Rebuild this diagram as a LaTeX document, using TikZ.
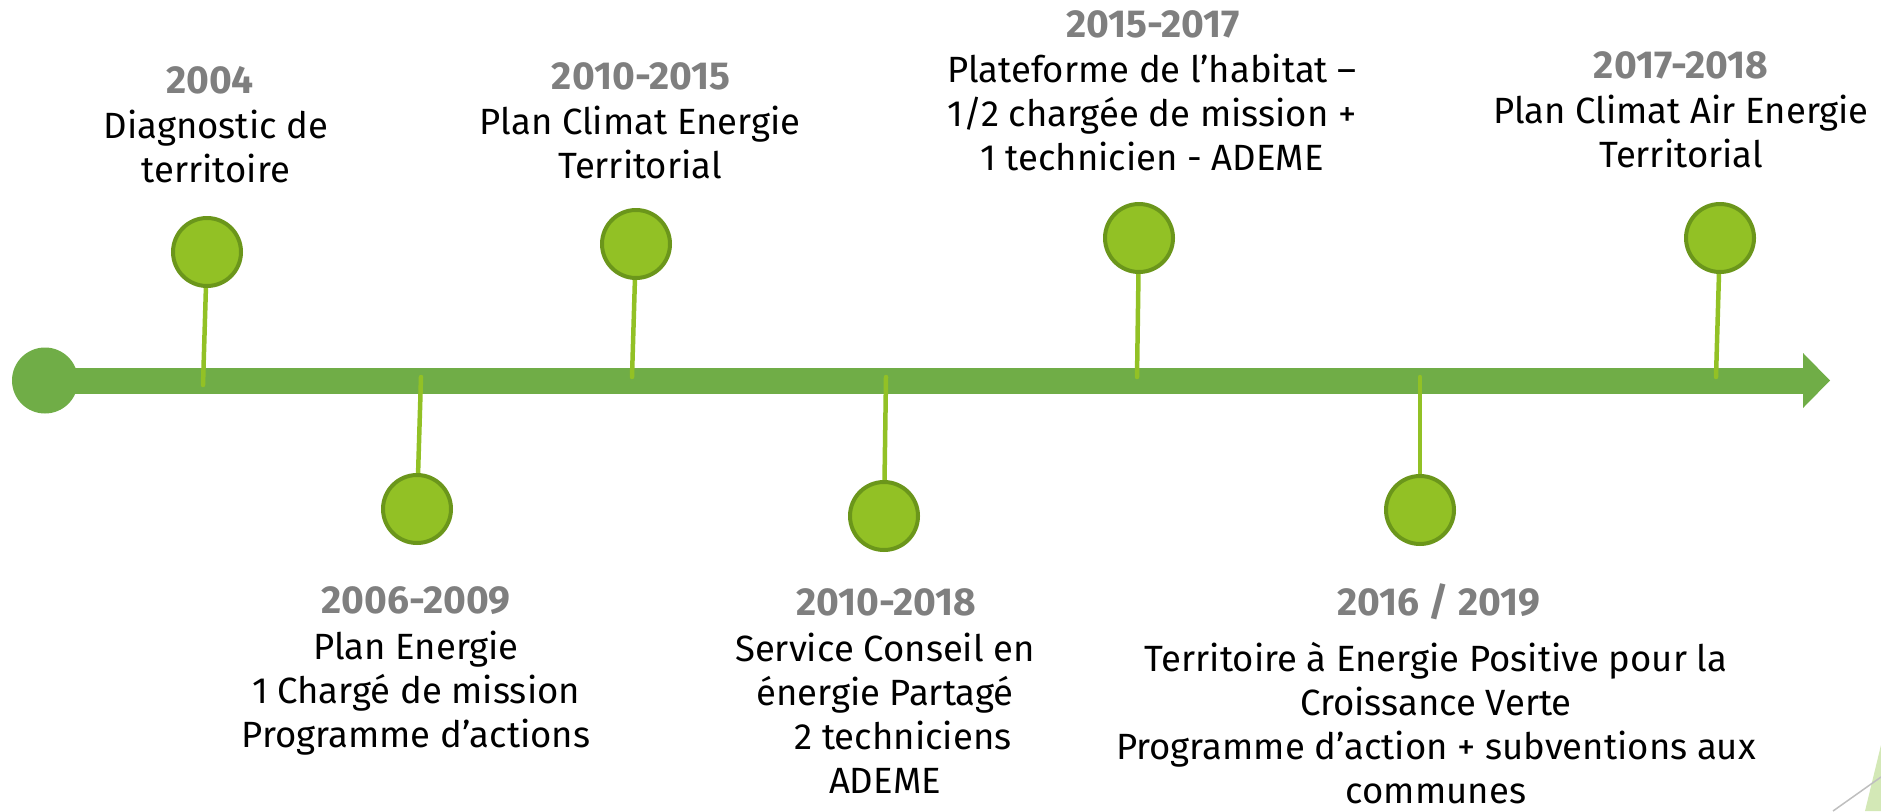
\documentclass[tikz,border=0pt]{standalone}
\usepackage{fontspec}
\setmainfont{Fira Sans}
\definecolor{bargreen}{HTML}{70AD47}
\definecolor{stemgreen}{HTML}{92C125}
\definecolor{dotfill}{HTML}{92C125}
\definecolor{dotline}{HTML}{6B961B}
\definecolor{yeargray}{HTML}{7F7F7F}
\definecolor{decogreen}{HTML}{D3E8B6}
\begin{document}
\begin{tikzpicture}[x=1pt,y=-1pt,
  dot/.style={circle, fill=dotfill, draw=dotline, line width=4pt, minimum size=68pt, inner sep=0pt},
  stemline/.style={draw=stemgreen, line width=4.5pt, line cap=round},
  year/.style={font=\fontsize{39}{44}\selectfont\bfseries, text=yeargray, anchor=base, inner sep=0pt},
  desc/.style={font=\fontsize{36.5}{44}\selectfont, align=center, anchor=base, inner sep=0pt}]
\useasboundingbox (0,0) rectangle (1881,811);
% decoration bottom right
\fill[decogreen] (1865,811) -- (1881,745) -- (1881,811) -- cycle;
\draw[black!25, line width=1.5pt] (1833,811) -- (1881,777);
% main bar
\node[circle, fill=bargreen, minimum size=66pt, inner sep=0pt] (start) at (45,380.5) {};
\coordinate (barend) at (1804,380.5);
\draw[bargreen, line width=26pt] (start.center) -- (barend);
\fill[bargreen] (1803,353) -- (1830,380.5) -- (1803,408) -- cycle;
% stems ends on bar
\coordinate (s1) at (203,385);
\coordinate (s2) at (421,377);
\coordinate (s3) at (632,377);
\coordinate (s4) at (886,377);
\coordinate (s5) at (1137,377);
\coordinate (s6) at (1420,377);
\coordinate (s7) at (1716,377);
% circles
\path (207,252) coordinate (p1) (417,509) coordinate (p2) (636,244) coordinate (p3)
      (884,516) coordinate (p4) (1139,238) coordinate (p5) (1420,510) coordinate (p6)
      (1720,238) coordinate (p7);
\foreach \i in {1,...,7}{\draw[stemline] (p\i) -- (s\i);}
\foreach \i in {1,...,7}{\node[dot] (c\i) at (p\i) {};}
% texts (base anchor = baseline of the last line)
\node[year] (y1) at (210,93) {2004};
\node[desc] (t1) at (216,182) {Diagnostic de\\territoire};
\node[year] (y2) at (416,613) {2006-2009};
\node[desc] (t2) at (416,747) {Plan Energie\\1 Chargé de mission\\Programme d’actions};
\node[year] (y3) at (641,89) {2010-2015};
\node[desc] (t3) at (640,178) {Plan Climat Energie\\Territorial};
\node[year] (y4) at (886,615) {2010-2018};
\node[desc] (t4) at (885,793) {Service Conseil en\\énergie Partagé\\\hspace*{36pt}2 techniciens\\ADEME};
\node[year] (y5) at (1153,37) {2015-2017};
\node[desc] (t5) at (1152,170) {Plateforme de l’habitat –\\1/2 chargée de mission +\\1 technicien - ADEME};
\node[year] (y6) at (1439,615) {2016 / 2019};
\node[desc] (t6) at (1436,803) {Territoire à Energie Positive pour la\\Croissance Verte\\Programme d’action + subventions aux\\communes};
\node[year] (y7) at (1681,78) {2017-2018};
\node[desc] (t7) at (1681,167) {Plan Climat Air Energie\\Territorial};
\end{tikzpicture}
\end{document}
